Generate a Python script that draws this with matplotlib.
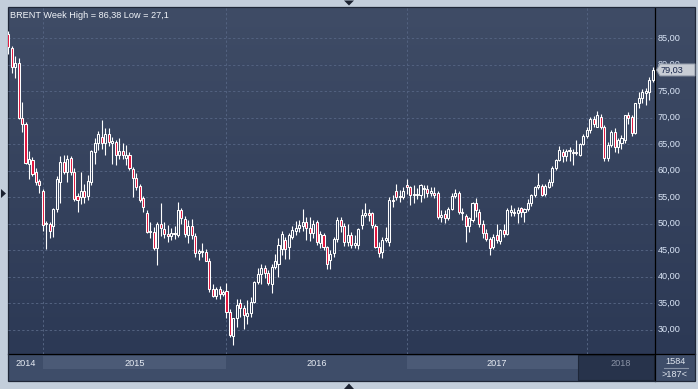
import matplotlib
matplotlib.use("Agg")
import matplotlib.pyplot as plt
import numpy as np
from matplotlib.patches import Rectangle, Polygon

# ---------------- data (weekly BRENT candles, Nov 2014 - May 2018) ----------------
opens = [85.9, 83.2, 79.5, 80.4, 69.9, 68.8, 61.2, 62.0, 59.8, 58.0,
         56.2, 49.9, 50.0, 49.6, 52.7, 57.9, 61.6, 59.8, 62.4, 59.8,
         55.2, 55.0, 56.2, 55.2, 57.9, 63.6, 65.3, 66.3, 65.3, 67.0,
         65.3, 65.5, 63.0, 63.7, 62.5, 63.0, 60.3, 58.6, 57.2, 54.8,
         52.0, 48.4, 48.5, 45.4, 49.9, 49.1, 48.1, 47.7, 48.3, 47.9,
         52.6, 50.9, 47.9, 49.6, 47.7, 44.5, 44.7, 44.6, 43.0, 37.7,
         36.4, 37.7, 36.7, 37.4, 33.3, 28.8, 32.2, 35.0, 34.1, 32.6,
         33.1, 35.3, 39.1, 40.5, 41.6, 40.8, 38.6, 41.9, 42.5, 45.2,
         46.9, 45.6, 47.6, 48.7, 49.3, 49.6, 50.4, 49.3, 48.3, 50.3,
         46.4, 47.8, 45.6, 43.2, 44.4, 47.1, 50.7, 49.6, 46.6, 47.9,
         46.0, 46.0, 49.8, 51.7, 52.0, 52.0, 49.5, 45.7, 44.6, 46.9,
         46.6, 54.4, 56.1, 55.1, 55.1, 57.3, 56.9, 55.4, 55.4, 55.4,
         56.5, 56.6, 55.75, 55.9, 55.75, 51.2, 51.8, 51.0, 52.8, 55.3,
         55.75, 52.2, 51.4, 49.5, 50.7, 53.9, 52.2, 50.0, 48.2, 47.2,
         45.6, 47.9, 46.8, 48.9, 48.0, 52.3, 52.3, 52.0, 52.9, 52.3,
         52.7, 53.9, 55.4, 56.9, 57.1, 55.6, 57.0, 57.9, 60.5, 62.0,
         63.6, 62.7, 63.7, 63.6, 63.6, 63.0, 65.0, 66.6, 67.7, 69.8,
         68.3, 70.2, 68.3, 62.5, 64.9, 67.4, 64.5, 65.2, 65.8, 70.5,
         70.2, 67.2, 72.7, 73.7, 74.7, 74.9, 77.1]
highs = [86.4, 83.6, 81.7, 81.2, 72.9, 69.2, 63.7, 62.6, 60.5, 58.5,
         56.6, 50.6, 50.4, 53.0, 59.1, 62.7, 63.0, 62.9, 62.8, 60.6,
         55.9, 59.8, 57.6, 59.3, 64.0, 66.2, 67.6, 69.6, 68.0, 68.0,
         66.4, 65.9, 66.2, 65.3, 64.9, 63.5, 60.7, 59.5, 57.6, 55.2,
         52.6, 50.4, 49.4, 50.3, 54.0, 50.4, 49.8, 49.3, 49.6, 54.1,
         53.0, 51.5, 50.7, 50.9, 48.3, 45.2, 46.4, 45.2, 43.6, 38.6,
         38.1, 38.2, 37.6, 38.9, 34.0, 32.3, 35.8, 35.8, 34.6, 35.6,
         36.2, 39.2, 41.6, 42.4, 42.3, 41.3, 42.4, 44.3, 47.3, 48.6,
         47.6, 48.2, 49.5, 50.6, 50.7, 52.8, 51.2, 51.2, 50.8, 50.7,
         48.7, 48.2, 45.9, 45.0, 47.6, 51.2, 51.2, 50.2, 49.9, 48.4,
         47.8, 49.3, 52.8, 53.9, 52.8, 52.3, 49.9, 46.6, 47.5, 49.4,
         55.0, 55.4, 57.5, 56.3, 56.9, 58.45, 57.2, 57.3, 56.7, 57.6,
         57.4, 57.3, 57.0, 56.9, 56.1, 52.6, 52.6, 53.2, 55.9, 56.6,
         56.1, 52.9, 51.9, 51.3, 54.2, 54.8, 52.8, 50.7, 49.0, 47.5,
         48.0, 50.0, 49.0, 49.9, 52.9, 53.5, 53.0, 53.2, 53.1, 53.0,
         54.6, 55.7, 57.2, 59.5, 57.6, 57.5, 58.5, 60.9, 62.3, 64.7,
         64.2, 64.1, 64.5, 64.1, 65.8, 65.3, 67.0, 68.3, 70.1, 70.4,
         71.3, 70.8, 68.7, 65.4, 67.7, 68.0, 66.2, 66.7, 70.6, 71.1,
         70.5, 72.7, 74.8, 75.4, 75.6, 77.7, 79.5]
lows = [82.1, 78.4, 77.5, 69.7, 67.4, 61.3, 58.4, 59.0, 57.3, 55.8,
        48.7, 45.2, 47.4, 47.6, 52.2, 53.9, 59.4, 57.9, 59.3, 54.3,
        52.3, 53.8, 54.0, 54.5, 57.3, 61.3, 63.9, 64.2, 63.0, 64.6,
        61.2, 61.0, 62.3, 62.3, 61.1, 60.2, 55.0, 56.3, 54.2, 52.2,
        48.3, 47.3, 45.1, 42.2, 47.7, 47.3, 46.6, 46.9, 47.2, 47.6,
        49.9, 47.6, 46.3, 47.1, 43.8, 43.1, 43.8, 42.9, 37.2, 36.1,
        35.9, 35.9, 36.4, 32.2, 28.7, 27.1, 30.5, 32.4, 30.1, 31.1,
        32.4, 35.0, 38.6, 38.6, 39.8, 38.5, 37.0, 41.5, 40.0, 44.1,
        43.3, 43.3, 47.1, 47.8, 48.5, 48.7, 46.9, 46.8, 47.4, 46.0,
        45.4, 45.0, 41.5, 41.5, 43.8, 46.6, 48.4, 45.8, 45.9, 45.5,
        45.4, 45.3, 49.0, 51.2, 50.6, 49.3, 45.4, 43.8, 43.5, 46.5,
        45.9, 53.2, 54.4, 54.1, 54.7, 55.7, 53.6, 53.9, 54.7, 54.2,
        54.8, 55.1, 55.3, 54.8, 50.9, 50.3, 50.1, 50.7, 52.6, 54.9,
        51.9, 50.7, 46.6, 48.4, 50.3, 51.3, 49.4, 47.3, 46.7, 44.1,
        45.2, 46.4, 46.2, 47.6, 47.9, 51.4, 51.4, 50.1, 51.2, 50.4,
        52.4, 53.4, 55.0, 56.5, 55.2, 55.3, 56.7, 57.2, 60.1, 61.8,
        61.6, 61.9, 61.8, 61.1, 62.9, 62.8, 64.8, 66.2, 67.1, 68.2,
        68.2, 67.8, 61.9, 61.8, 64.4, 63.6, 63.4, 64.2, 65.3, 68.8,
        66.6, 67.0, 71.9, 72.7, 72.5, 73.4, 76.7]
closes = [83.4, 79.5, 80.4, 69.9, 68.8, 61.5, 62.2, 59.4, 57.9, 57.3,
          49.8, 50.1, 48.6, 52.8, 58.4, 61.6, 59.8, 62.2, 59.8, 54.6,
          54.5, 56.2, 55.0, 58.1, 63.7, 65.3, 67.0, 65.3, 67.0, 65.5,
          65.7, 63.0, 63.7, 62.9, 63.0, 60.5, 58.6, 57.0, 54.5, 53.2,
          48.5, 48.6, 45.4, 49.9, 49.3, 48.1, 47.7, 48.3, 48.0, 52.6,
          51.0, 48.0, 49.5, 47.8, 44.5, 44.8, 44.9, 43.0, 37.7, 36.4,
          37.7, 36.8, 37.1, 33.3, 29.0, 32.2, 34.7, 34.1, 32.7, 33.1,
          35.3, 39.1, 40.5, 41.6, 40.8, 38.9, 41.9, 42.9, 46.0, 48.0,
          45.2, 47.9, 48.8, 49.3, 49.7, 50.4, 49.2, 48.2, 50.0, 46.5,
          48.1, 45.7, 42.4, 44.3, 47.1, 50.7, 49.6, 46.6, 47.9, 46.0,
          46.3, 49.0, 51.7, 52.0, 51.7, 49.8, 45.6, 44.4, 46.9, 47.4,
          54.4, 54.3, 55.1, 55.2, 56.1, 56.9, 55.4, 55.6, 55.6, 57.3,
          56.7, 55.75, 56.2, 55.4, 51.2, 51.7, 51.0, 52.7, 55.3, 55.75,
          52.2, 52.0, 49.5, 51.0, 53.9, 52.6, 50.0, 48.2, 47.2, 45.4,
          47.6, 46.9, 48.9, 48.0, 52.6, 52.6, 52.0, 52.6, 52.3, 52.7,
          53.9, 55.4, 56.9, 57.4, 55.4, 57.2, 57.9, 60.6, 62.0, 63.9,
          62.7, 63.7, 64.0, 63.3, 63.3, 65.0, 66.6, 67.7, 69.8, 68.8,
          70.5, 68.3, 62.5, 64.9, 67.4, 64.5, 65.8, 66.1, 70.5, 70.0,
          67.2, 72.7, 73.7, 74.9, 75.1, 77.1, 79.03]

price_ticks = [30, 35, 40, 45, 50, 55, 60, 65, 70, 75, 80, 85]
year_labels = ["2014", "2015", "2016", "2017", "2018"]
year_first_week = [10, 63, 115, 167]      # candle index of first full week of each new year
title_text = "BRENT Week High = 86,38 Low = 27,1"
last_price = 79.03
bar_total = "1584"
bar_visible = ">187<"

# ---------------- layout (pixels) ----------------
W, H = 698, 389
PL, PT, PR, PB = 8, 8, 655, 354      # plot area
RR, SB = 695, 381                   # panel right edge, strip bottom
XMIN, XMAX = -0.06, 186.67
YMIN, YMAX = 25.43, 90.72
FONT = "Liberation Sans"
FS = 6.6

def px(i):
    return PL + (i - XMIN) / (XMAX - XMIN) * (PR - PL)

def py(p):
    return PB - (p - YMIN) / (YMAX - YMIN) * (PB - PT)

fig = plt.figure(figsize=(W / 100, H / 100), dpi=100)
fig.patch.set_facecolor("#c3cedb")

bg = fig.add_axes([0, 0, 1, 1])
bg.axis("off")

# gradient background of plot and right column
g = np.linspace(0, 1, 256)[:, None, None]
top = np.array([63, 76, 102]) / 255.0
bot = np.array([44, 57, 85]) / 255.0
img = top * (1 - g) + bot * g
bg.imshow(img, extent=(PL, RR, PB, PT), aspect="auto", interpolation="bilinear", zorder=0)
bg.set_xlim(0, W)
bg.set_ylim(H, 0)

# bottom year strip
bg.add_patch(Rectangle((PL, PB), RR - PL, SB - PB, facecolor="#3e4d69", edgecolor="none", zorder=1))
bounds = [PL] + [px(i) for i in year_first_week] + [PR]
dark_left = bounds[4] - 9
bg.add_patch(Rectangle((dark_left, PB + 1), PR - 1 - dark_left, SB - PB - 2,
                       facecolor="#27334b", edgecolor="#1d2638", lw=0.8, zorder=2))
for k in (1, 3):
    x0, x1 = bounds[k], bounds[k + 1]
    bg.add_patch(Rectangle((x0, PB + 2), x1 - x0, 13, facecolor="#4c5b77",
                           edgecolor="none", alpha=0.95, zorder=1.5))
for k, lab in enumerate(year_labels):
    xc = (bounds[k] + bounds[k + 1]) / 2
    col = "#8a93a6" if k == 4 else "#e6ebf3"
    bg.text(xc, 363, lab, ha="center", va="center", fontsize=FS, family=FONT, color=col, zorder=3)

# separating lines and frame
bg.plot([PL, RR], [PB, PB], color="black", lw=0.9, zorder=4)
bg.plot([PR, PR], [PT, SB], color="black", lw=0.9, zorder=4)
bg.add_patch(Rectangle((PL - 0.5, PT - 0.7), RR - PL + 0.5, SB - PT + 0.7, facecolor="none",
                       edgecolor="#1f2738", lw=0.9, zorder=4))

# last price tag geometry
yl = py(last_price)
tag_top = yl - 6

# price labels on the right (the one under the tag is mostly hidden by it)
for p in price_ticks:
    t = bg.text(PR + 3, py(p), f"{p:.2f}".replace(".", ","), ha="left", va="center",
                fontsize=FS, family=FONT, color="#dbe6f7", zorder=3)
    if abs(py(p) - yl) < 10:
        clip = Rectangle((PR, PT), RR - PR, tag_top - PT, transform=bg.transData,
                         facecolor="none", edgecolor="none")
        t.set_clip_path(clip)

tag = Polygon([(PR + 1.5, yl), (PR + 5, yl - 6), (RR, yl - 6), (RR, yl + 6), (PR + 5, yl + 6)],
              closed=True, facecolor="#c8cdd5", edgecolor="#8e97a6", lw=0.7, zorder=5)
bg.add_patch(tag)
bg.text(PR + 6, yl, f"{last_price:.2f}".replace(".", ","), ha="left", va="center",
        fontsize=FS, family=FONT, color="#16244a", zorder=6)

# bar counters bottom-right
bg.text((PR + RR) / 2, 362, bar_total, ha="center", va="center", fontsize=FS, family=FONT,
        color="#dfe5ee", zorder=3)
bg.plot([PR + 9, RR - 7], [368, 368], color="#8793a6", lw=0.8, zorder=3)
bg.text((PR + RR) / 2, 374.5, bar_visible, ha="center", va="center", fontsize=FS, family=FONT,
        color="#dfe5ee", zorder=3)

# title
bg.text(10, 15.5, title_text, ha="left", va="center", fontsize=FS, family=FONT,
        color="#f2f5fa", zorder=6)

# little navigation triangles
bg.add_patch(Polygon([(1, 189), (6, 193.5), (1, 198)], closed=True, facecolor="#1b2130", edgecolor="none"))
bg.add_patch(Polygon([(344, 0.5), (354, 0.5), (349, 5.5)], closed=True, facecolor="#1b2130", edgecolor="none"))
bg.add_patch(Polygon([(344, 389), (354, 389), (349, 383.5)], closed=True, facecolor="#1b2130", edgecolor="none"))

# ---------------- candlestick plot ----------------
ax = fig.add_axes([PL / W, 1 - PB / H, (PR - PL) / W, (PB - PT) / H])
ax.set_facecolor("none")
ax.axis("off")
ax.set_xlim(XMIN, XMAX)
ax.set_ylim(YMIN, YMAX)

dash = (0, (2.2, 2.2))
for p in price_ticks:
    ax.axhline(p, color="#52617f", lw=0.75, ls=dash, zorder=1)
for i in year_first_week:
    ax.axvline(i, color="#52617f", lw=0.75, ls=dash, zorder=1)

o = np.array(opens); h = np.array(highs); l = np.array(lows); c = np.array(closes)
idx = np.arange(len(o))
body_lo = np.minimum(o, c)
body_hi = np.maximum(o, c)
heights = np.maximum(body_hi - body_lo, 0.02)
face = [(0, 0, 0, 0) if cc >= oo else "#e0143c" for oo, cc in zip(o, c)]

ax.vlines(idx, l, body_lo, color="white", lw=0.8, zorder=2)
ax.vlines(idx, body_hi, h, color="white", lw=0.8, zorder=2)
ax.bar(idx, heights, bottom=body_lo, width=0.6, color=face, edgecolor="white",
       linewidth=0.75, zorder=3)

fig.savefig("out.png", dpi=100, facecolor=fig.get_facecolor())
